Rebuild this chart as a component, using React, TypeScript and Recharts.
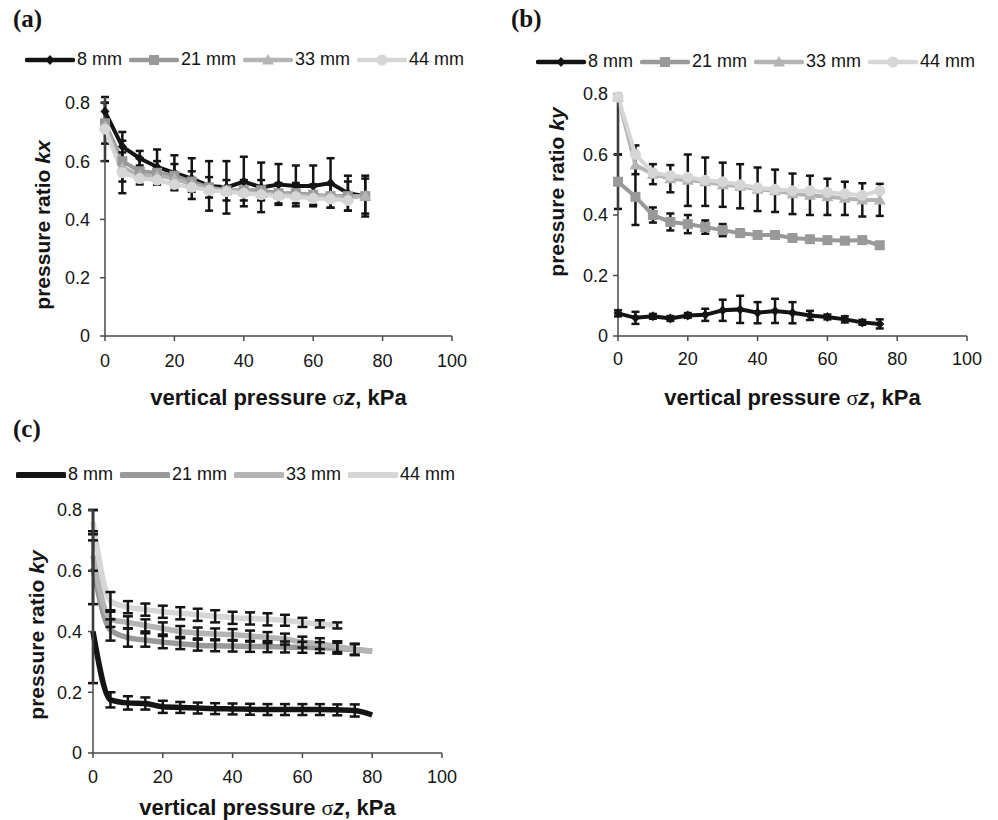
import React from "react";
import { LineChart, Line, XAxis, YAxis, ErrorBar, Legend, Label } from "recharts";

const SANS = '"Liberation Sans", Arial, Helvetica, sans-serif';
const SERIF = '"Liberation Serif", "Times New Roman", serif';
const AXIS = "#4a4a4a";
const FRAME = "#9a9a9a";
const INK = "#141414";

const seriesNames = ["8 mm", "21 mm", "33 mm", "44 mm"];
const seriesColors = ["#141414", "#999999", "#b4b4b4", "#d6d6d6"];
const seriesMarkers = ["diamond", "square", "triangle", "circle"];

const xTicks = [0, 20, 40, 60, 80, 100];
const yTicks = [0, 0.2, 0.4, 0.6, 0.8];

type Err = number | number[] | null;

// (a) pressure ratio kx
const pressureAB = [0, 5, 10, 15, 20, 25, 30, 35, 40, 45, 50, 55, 60, 65, 70, 75];
const aKx8 = [0.77, 0.65, 0.61, 0.58, 0.56, 0.54, 0.515, 0.51, 0.53, 0.51, 0.52, 0.515, 0.515, 0.525, 0.49, 0.48];
const aKx21 = [0.73, 0.6, 0.565, 0.56, 0.55, 0.53, 0.51, 0.5, 0.5, 0.5, 0.49, 0.49, 0.485, 0.48, 0.48, 0.48];
const aKx33 = [0.72, 0.58, 0.55, 0.55, 0.54, 0.52, 0.505, 0.5, 0.495, 0.49, 0.485, 0.485, 0.48, 0.48, 0.475, 0.48];
const aKx44 = [0.71, 0.56, 0.54, 0.535, 0.52, 0.51, 0.5, 0.495, 0.49, 0.485, 0.48, 0.478, 0.472, 0.47, 0.465, null];
const aErr8: Err[] = [0.03, 0.05, 0.025, 0.06, 0.06, 0.07, 0.085, 0.09, 0.085, 0.085, 0.07, 0.07, 0.07, 0.085, 0.06, 0.07];
const aErr21: Err[] = [0.07, 0.07, 0.045, 0.04, 0.04, 0.035, 0.035, 0.035, 0.035, 0.035, 0.035, 0.035, 0.035, 0.04, 0.05, 0.06];
const aErr33: Err[] = [null, null, null, null, null, null, null, null, null, null, null, null, null, null, null, null];
const aErr44: Err[] = [0.11, 0.07, null, null, null, null, null, null, null, null, null, null, null, null, null, null];

// (b) pressure ratio ky
const bKy8 = [0.075, 0.06, 0.065, 0.058, 0.068, 0.07, 0.085, 0.088, 0.077, 0.083, 0.077, 0.068, 0.063, 0.055, 0.045, 0.04];
const bKy21 = [0.51, 0.46, 0.4, 0.377, 0.37, 0.36, 0.35, 0.34, 0.334, 0.334, 0.324, 0.32, 0.317, 0.315, 0.317, 0.3];
const bKy33 = [0.79, 0.565, 0.535, 0.52, 0.515, 0.51, 0.5, 0.495, 0.485, 0.48, 0.47, 0.465, 0.46, 0.455, 0.45, 0.45];
const bKy44 = [0.79, 0.6, 0.54, 0.53, 0.525, 0.515, 0.51, 0.5, 0.49, 0.485, 0.48, 0.48, 0.475, 0.47, 0.465, 0.48];
const bErr8: Err[] = [0.01, 0.02, 0.008, 0.008, 0.008, 0.02, 0.035, 0.045, 0.035, 0.04, 0.035, 0.015, 0.008, 0.01, 0.008, 0.015];
const bErr21: Err[] = [0.09, [0.093, 0.17], 0.025, 0.028, 0.03, 0.022, 0.02, 0.012, 0.008, 0.008, 0.006, 0.006, 0.006, 0.006, 0.006, 0.006];
const bErr33: Err[] = [[0.19, 0.01], 0.03, 0.033, 0.045, 0.085, 0.08, 0.073, 0.073, 0.072, 0.07, 0.067, 0.065, 0.06, 0.055, 0.055, 0.053];
const bErr44: Err[] = [null, null, null, null, null, null, null, null, null, null, null, null, null, null, null, null];

// (c) pressure ratio ky, smoothed
const pressureC = [0, 5, 10, 15, 20, 25, 30, 35, 40, 45, 50, 55, 60, 65, 70, 75, 80];
const cKy8 = [0.4, 0.175, 0.165, 0.163, 0.152, 0.15, 0.148, 0.146, 0.145, 0.144, 0.143, 0.143, 0.143, 0.143, 0.142, 0.14, 0.125];
const cKy21 = [0.61, 0.405, 0.38, 0.372, 0.365, 0.36, 0.355, 0.353, 0.352, 0.351, 0.35, 0.349, 0.348, 0.347, 0.345, 0.34, 0.335];
const cKy33 = [0.65, 0.44, 0.43, 0.42, 0.41, 0.4, 0.395, 0.392, 0.39, 0.385, 0.38, 0.375, 0.365, 0.36, 0.35, 0.342, 0.335];
const cKy44 = [0.76, 0.5, 0.48, 0.472, 0.465, 0.46, 0.455, 0.45, 0.445, 0.443, 0.44, 0.437, 0.43, 0.425, 0.42, null, null];
const cErr8: Err[] = [[0.17, 0.4], 0.025, 0.022, 0.02, 0.02, 0.018, 0.018, 0.018, 0.018, 0.018, 0.018, 0.018, 0.018, 0.018, 0.018, 0.02, null];
const cErr21: Err[] = [0.12, 0.035, 0.03, 0.022, 0.02, 0.018, 0.018, 0.018, 0.018, 0.018, 0.018, 0.018, 0.018, 0.018, 0.018, 0.018, null];
const cErr33: Err[] = [0.05, 0.025, 0.02, 0.02, 0.02, 0.018, 0.018, 0.018, 0.018, 0.018, 0.018, 0.018, 0.018, 0.018, 0.018, 0.018, null];
const cErr44: Err[] = [0.04, 0.03, 0.02, 0.02, 0.02, 0.02, 0.02, 0.02, 0.02, 0.02, 0.02, 0.018, 0.015, 0.012, 0.01, null, null];

function rows(x: number[], vals: (number | null)[][], errs: Err[][]) {
  return x.map((v, i) => {
    const r: Record<string, unknown> = { x: v };
    vals.forEach((s, k) => (r[`s${k}`] = s[i]));
    errs.forEach((s, k) => (r[`e${k}`] = s[i]));
    return r;
  });
}

const dataA = rows(pressureAB, [aKx8, aKx21, aKx33, aKx44], [aErr8, aErr21, aErr33, aErr44]);
const dataB = rows(pressureAB, [bKy8, bKy21, bKy33, bKy44], [bErr8, bErr21, bErr33, bErr44]);
const dataC = rows(pressureC, [cKy8, cKy21, cKy33, cKy44], [cErr8, cErr21, cErr33, cErr44]);

function marker(shape: string, cx: number, cy: number, color: string, key?: React.Key) {
  switch (shape) {
    case "diamond":
      return <path key={key} d={`M${cx},${cy - 5}L${cx + 4.5},${cy}L${cx},${cy + 5}L${cx - 4.5},${cy}Z`} fill={color} />;
    case "square":
      return <rect key={key} x={cx - 5} y={cy - 5} width={10} height={10} fill={color} />;
    case "triangle":
      return <path key={key} d={`M${cx},${cy - 6}L${cx + 6},${cy + 4.5}L${cx - 6},${cy + 4.5}Z`} fill={color} />;
    default:
      return <circle key={key} cx={cx} cy={cy} r={5.5} fill={color} />;
  }
}

const renderDot = (shape: string, color: string) => (p: any) => {
  const { cx, cy, index } = p;
  if (cx == null || cy == null || Number.isNaN(cy)) return <g key={`d${index}`} />;
  return marker(shape, cx, cy, color, `d${index}`);
};

function LegendRow({ markers, lineWidth }: { markers: boolean; lineWidth: number }) {
  return (
    <div style={{ display: "flex", alignItems: "center", fontFamily: SANS, fontSize: 18, color: INK, whiteSpace: "nowrap" }}>
      {seriesNames.map((n, i) => (
        <div key={n} style={{ display: "flex", alignItems: "center", marginRight: 7 }}>
          <svg width={50} height={16}>
            <line x1={2} x2={48} y1={8} y2={8} stroke={seriesColors[i]} strokeWidth={lineWidth + 0.5} strokeLinecap="round" />
            {markers && marker(seriesMarkers[i], 25, 8, seriesColors[i])}
          </svg>
          <span style={{ marginLeft: 2 }}>{n}</span>
        </div>
      ))}
    </div>
  );
}

function XTitle({ cx, cy }: { cx: number; cy: number }) {
  return (
    <text x={cx} y={cy} textAnchor="middle" dominantBaseline="central" fontFamily={SANS} fontWeight="bold" fontSize={22} fill={INK}>
      vertical pressure <tspan fontFamily={SERIF} fontWeight="normal">σ</tspan>
      <tspan fontStyle="italic">z</tspan>, kPa
    </text>
  );
}

function YTitle({ cx, cy, letter }: { cx: number; cy: number; letter: string }) {
  return (
    <text x={cx} y={cy} transform={`rotate(-90 ${cx} ${cy})`} textAnchor="middle" dominantBaseline="central" fontFamily={SANS} fontWeight="bold" fontSize={21} fill={INK}>
      pressure ratio <tspan fontStyle="italic">k{letter}</tspan>
    </text>
  );
}

type PanelProps = {
  tag: string;
  left: number;
  top: number;
  width: number;
  height: number;
  plotTop: number;
  plotRight: number;
  yWidth: number;
  xHeight: number;
  data: Record<string, unknown>[];
  letter: string;
  yTitleX: number;
  yTitleY: number;
  xTitleY: number;
  xTickMargin: number;
  yTickMargin: number;
  legendLeft: number;
  legendTop: number;
  markers: boolean;
  lineWidth: number;
  capHalf: number;
  smooth: boolean;
  barsOnTop: boolean;
};

function Panel(p: PanelProps) {
  const plotW = p.width - p.plotRight - p.yWidth;
  const cx = p.yWidth + plotW / 2;
  const bar = (i: number) => (
    <ErrorBar dataKey={`e${i}`} direction="y" width={p.capHalf} strokeWidth={2.5} stroke={INK} isAnimationActive={false} />
  );
  return (
    <div style={{ position: "absolute", left: p.left, top: p.top, width: p.width, height: p.height }}>
      <div style={{ position: "absolute", left: 13, top: 5, fontFamily: SERIF, fontWeight: "bold", fontSize: 25, color: INK }}>
        {p.tag}
      </div>
      <LineChart width={p.width} height={p.height} data={p.data} margin={{ top: p.plotTop, right: p.plotRight, left: 0, bottom: 0 }}>
        <XAxis
          dataKey="x"
          type="number"
          domain={[0, 100]}
          ticks={xTicks}
          interval={0}
          height={p.xHeight}
          axisLine={{ stroke: AXIS, strokeWidth: 1.5 }}
          tickLine={{ stroke: AXIS, strokeWidth: 1.5 }}
          tickSize={5}
          tickMargin={p.xTickMargin}
          tick={{ fill: INK, fontSize: 18, fontFamily: SANS }}
        >
          <Label content={() => <XTitle cx={cx} cy={p.xTitleY} />} />
        </XAxis>
        <XAxis xAxisId="top" orientation="top" type="number" domain={[0, 100]} height={0} tick={false} tickLine={false} axisLine={{ stroke: FRAME, strokeWidth: 1.5 }} />
        <YAxis
          type="number"
          domain={[0, 0.8]}
          ticks={yTicks}
          interval={0}
          width={p.yWidth}
          axisLine={{ stroke: AXIS, strokeWidth: 1.5 }}
          tickLine={{ stroke: AXIS, strokeWidth: 1.5 }}
          tickSize={5}
          tickMargin={p.yTickMargin}
          tick={{ fill: INK, fontSize: 18, fontFamily: SANS }}
          tickFormatter={(v) => String(v)}
        >
          <Label content={() => <YTitle cx={p.yTitleX} cy={p.yTitleY} letter={p.letter} />} />
        </YAxis>
        <YAxis yAxisId="right" orientation="right" type="number" domain={[0, 0.8]} width={0} tick={false} tickLine={false} axisLine={{ stroke: FRAME, strokeWidth: 1.5 }} />
        <Legend
          layout="horizontal"
          verticalAlign="middle"
          align="center"
          wrapperStyle={{ left: p.legendLeft, top: p.legendTop, width: 480 }}
          content={() => <LegendRow markers={p.markers} lineWidth={p.lineWidth} />}
        />
        {[0, 1, 2, 3].map((i) => (
          <Line
            key={`s${i}`}
            dataKey={`s${i}`}
            stroke={seriesColors[i]}
            strokeWidth={p.lineWidth}
            type={p.smooth ? "monotone" : "linear"}
            dot={p.markers ? renderDot(seriesMarkers[i], seriesColors[i]) : false}
            activeDot={false}
            isAnimationActive={false}
          >
            {!p.barsOnTop && bar(i)}
          </Line>
        ))}
        {p.barsOnTop &&
          [0, 1, 2, 3].map((i) => (
            <Line key={`b${i}`} dataKey={`s${i}`} stroke="none" dot={false} activeDot={false} isAnimationActive={false}>
              {bar(i)}
            </Line>
          ))}
      </LineChart>
    </div>
  );
}

export default function App() {
  return (
    <div style={{ position: "absolute", left: 0, top: 0, width: 998, height: 820, background: "#fff", overflow: "hidden" }}>
      <Panel
        tag="(a)" left={0} top={0} width={470} height={410}
        plotTop={97} plotRight={18} yWidth={105} xHeight={74}
        data={dataA} letter="x" yTitleX={42} yTitleY={225} xTitleY={397}
        xTickMargin={13} yTickMargin={10}
        legendLeft={25} legendTop={49}
        markers lineWidth={4} capHalf={4} smooth={false} barsOnTop={false}
      />
      <Panel
        tag="(b)" left={498} top={0} width={500} height={410}
        plotTop={94} plotRight={31} yWidth={120} xHeight={74}
        data={dataB} letter="y" yTitleX={58} yTitleY={192} xTitleY={397}
        xTickMargin={11} yTickMargin={5}
        legendLeft={38} legendTop={51}
        markers lineWidth={4} capHalf={4} smooth={false} barsOnTop={false}
      />
      <Panel
        tag="(c)" left={0} top={410} width={470} height={410}
        plotTop={100} plotRight={28} yWidth={93} xHeight={67}
        data={dataC} letter="y" yTitleX={36} yTitleY={225} xTitleY={397}
        xTickMargin={12} yTickMargin={6}
        legendLeft={16} legendTop={54}
        markers={false} lineWidth={5.5} capHalf={5} smooth barsOnTop
      />
    </div>
  );
}
